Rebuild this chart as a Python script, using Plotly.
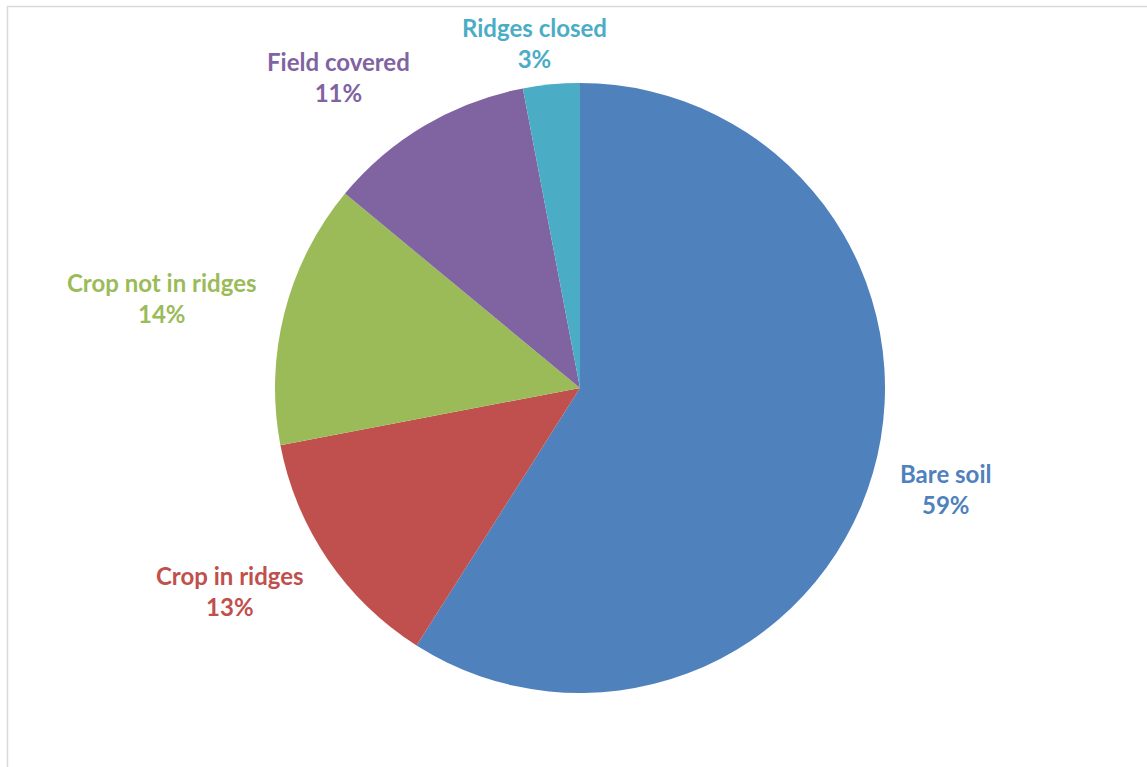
import math
import plotly.graph_objects as go

labels = ["Bare soil", "Crop in ridges", "Crop not in ridges", "Field covered", "Ridges closed"]
values = [59, 13, 14, 11, 3]
colors = ["#4F81BD", "#C0504D", "#9BBB59", "#8064A2", "#4BACC6"]

W, H = 1147, 767
cx, cy, r = 580, 388, 305
FONT = "Lato, Open Sans, sans-serif"
FS = 24

fig = go.Figure(go.Pie(
    labels=labels,
    values=values,
    sort=False,
    direction="clockwise",
    rotation=0,
    marker=dict(colors=colors, line=dict(width=0)),
    textinfo="none",
    domain=dict(x=[(cx - r) / W, (cx + r) / W], y=[(H - cy - r) / H, (H - cy + r) / H]),
    showlegend=False,
    hoverinfo="label+percent",
))

# outside labels placed Excel-style around the pie, derived from the values
total = sum(values)
annotations = []
cum = 0
R = r * 1.085
half_h = 30
for lab, v, col in zip(labels, values, colors):
    mid = (cum + v / 2) / total * 2 * math.pi
    cum += v
    s, c = math.sin(mid), math.cos(mid)
    px = cx + R * s
    py = cy - R * c - c * half_h
    if s > 0.4:
        xa = "left"
    elif s < -0.4:
        xa = "right"
    else:
        xa = "center"
        px += s * 150
        py += 14 * c
    pct = round(v / total * 100)
    annotations.append(dict(
        x=px / W, y=1 - py / H, xref="paper", yref="paper",
        xanchor=xa, yanchor="middle", showarrow=False, align="center",
        text=f"<b>{lab}</b><br><b>{pct}%</b>",
        font=dict(family=FONT, size=FS, color=col),
    ))

fig.update_layout(
    width=W, height=H,
    margin=dict(l=0, r=0, t=0, b=0),
    paper_bgcolor="white",
    plot_bgcolor="white",
    annotations=annotations,
    shapes=[dict(type="rect", xref="paper", yref="paper",
                 x0=7.5 / W, x1=1.05, y0=-0.05, y1=1 - 6.5 / H,
                 line=dict(color="#D9D9D9", width=1.5), layer="below")],
)

fig.write_html("out.html")
